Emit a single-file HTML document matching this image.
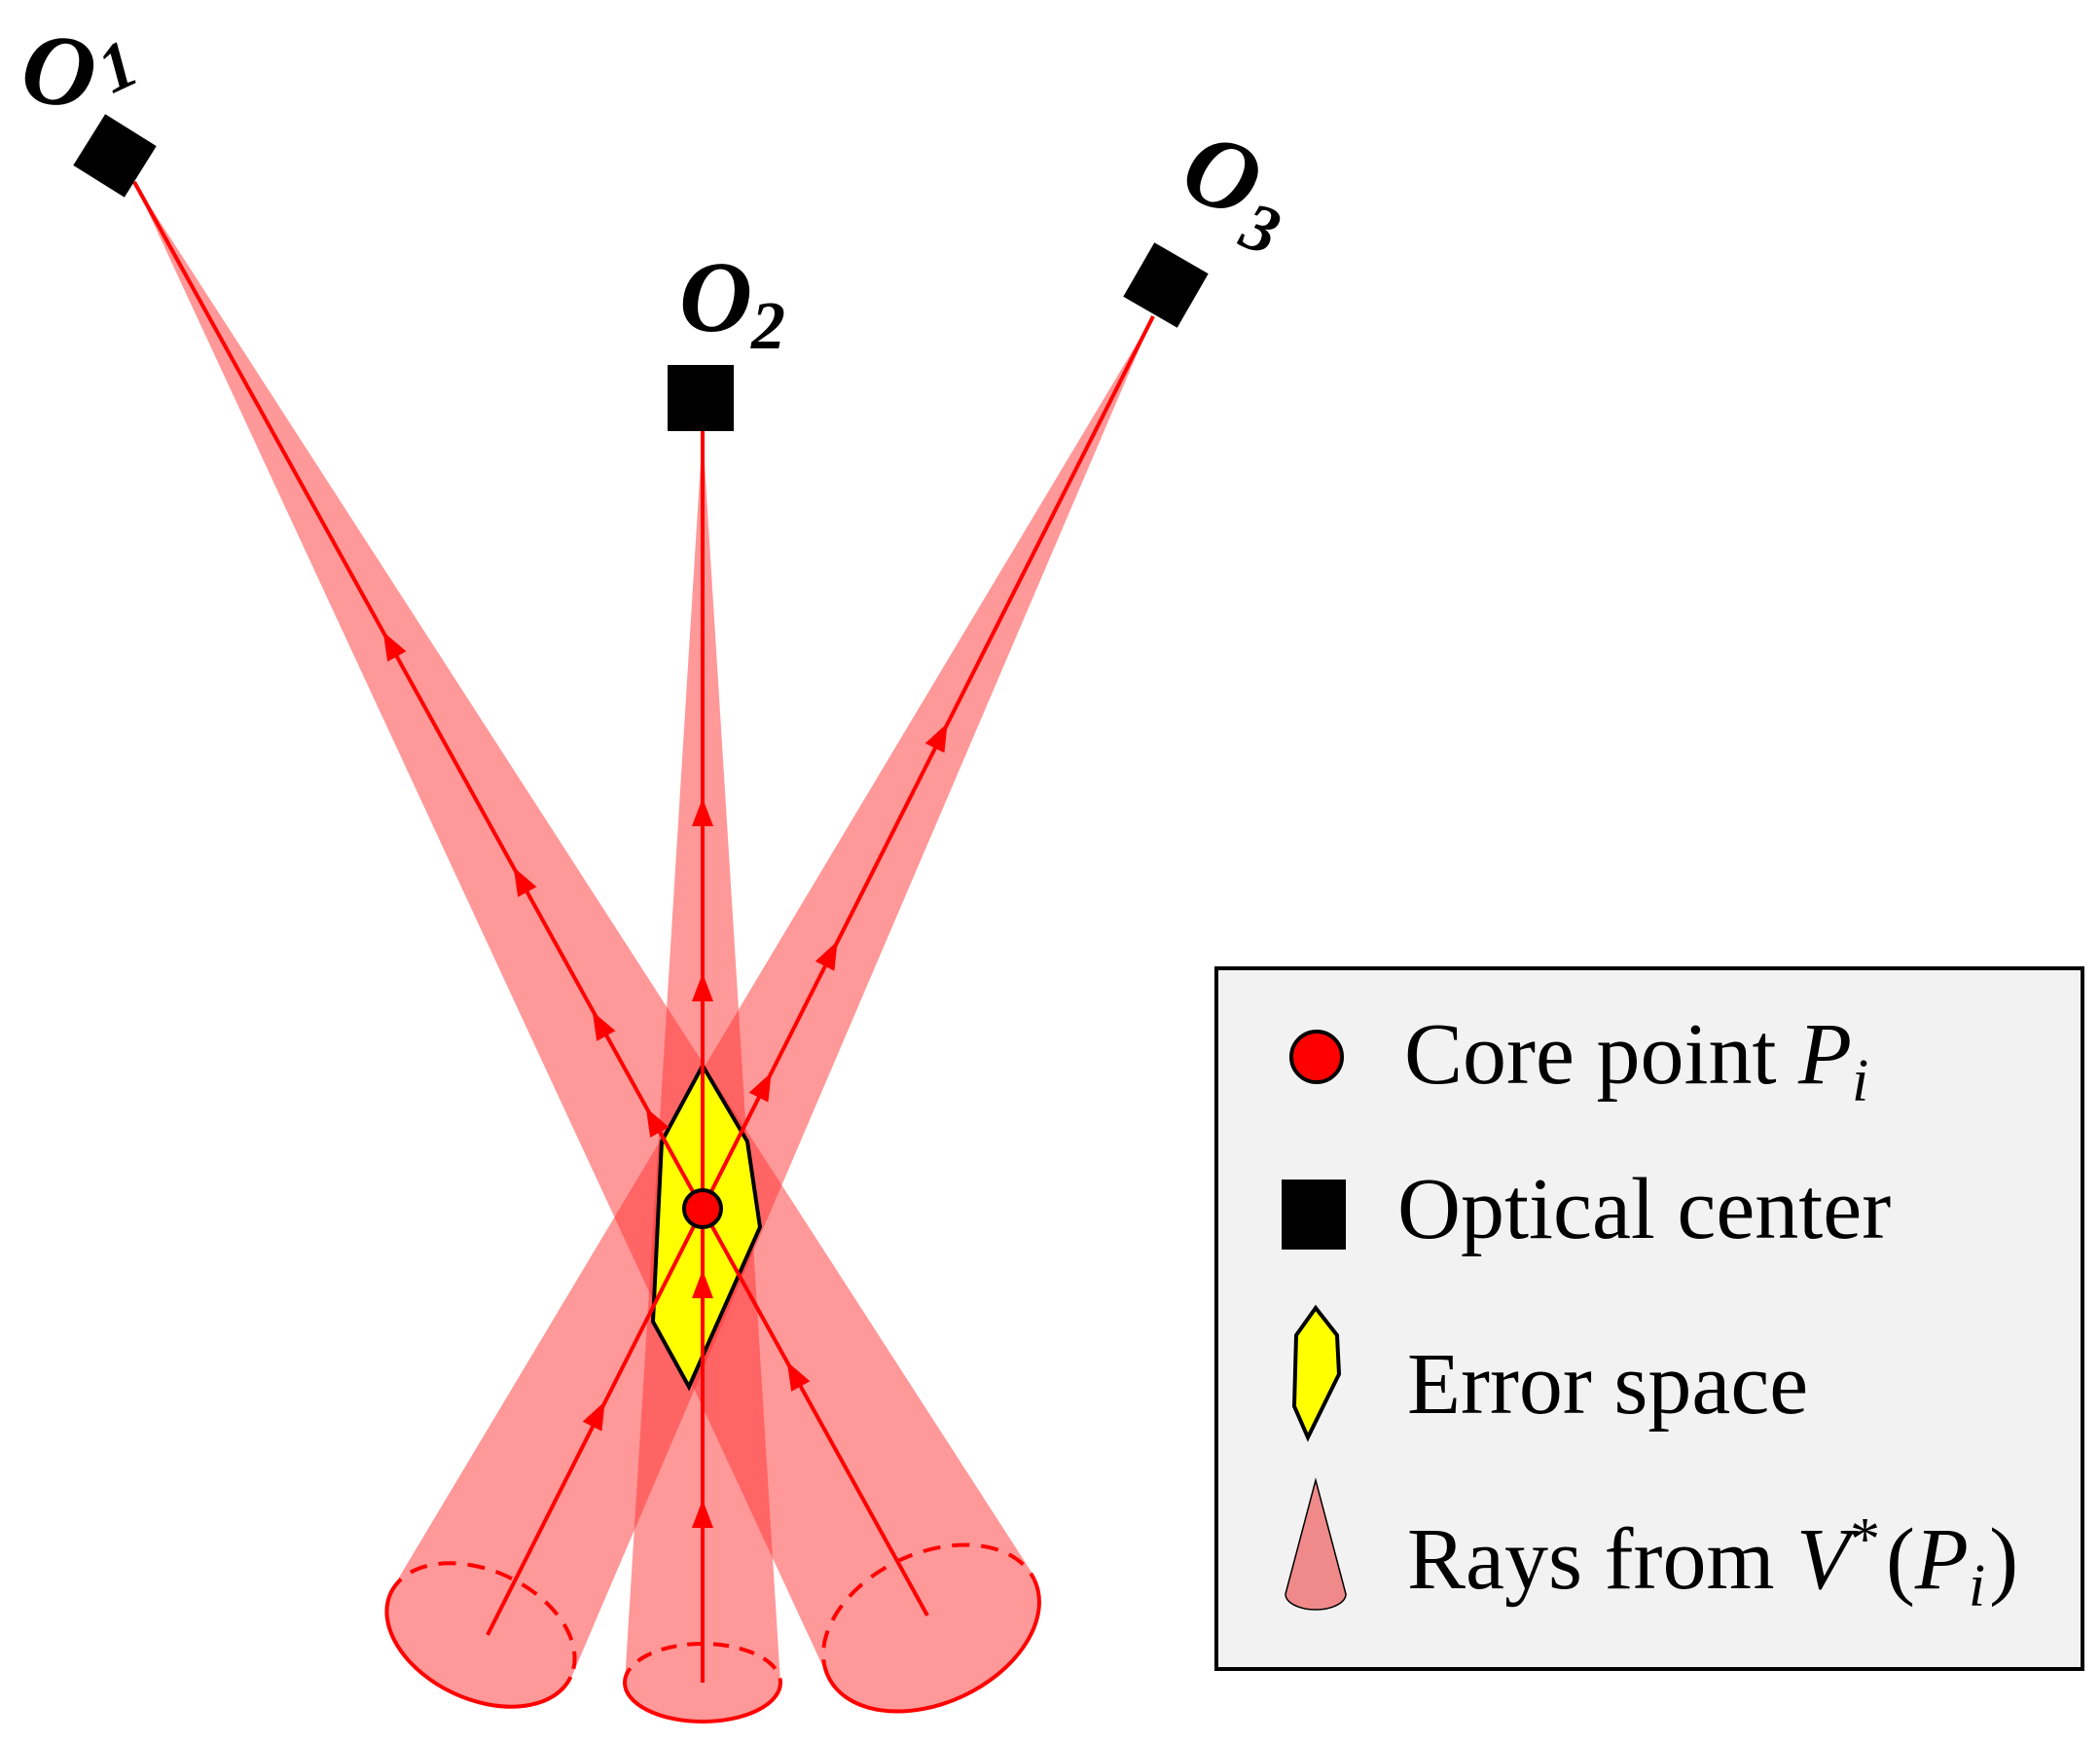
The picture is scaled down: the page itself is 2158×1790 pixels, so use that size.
<!DOCTYPE html>
<html><head><meta charset="utf-8"><style>
html,body{margin:0;padding:0;background:#fff;}
svg{display:block}
</style></head><body>
<svg width="2158" height="1790" viewBox="0 0 2158 1790" xmlns="http://www.w3.org/2000/svg">
<!-- cones -->
<g opacity="0.5" fill="#ff3232">
  <polygon points="138,187 1063,1620 851,1724"/>
  <ellipse cx="957" cy="1673" rx="117" ry="77" transform="rotate(-25 957 1673)"/>
</g>
<g opacity="0.5" fill="#ff3232">
  <polygon points="722,443 642,1729 802,1729"/>
  <ellipse cx="722" cy="1729" rx="80" ry="40"/>
</g>
<g opacity="0.5" fill="#ff3232">
  <polygon points="1185,325 401,1636 587,1724"/>
  <ellipse cx="494" cy="1680" rx="102" ry="66" transform="rotate(25 494 1680)"/>
</g>
<!-- ellipse outlines -->
<g fill="none" stroke="#ff0000" stroke-width="4">
  <g transform="translate(957,1673) rotate(-25)">
    <path d="M-117,0 A117 77 0 0 1 117,0" stroke-dasharray="18 12"/>
    <path d="M-117,0 A117 77 0 0 0 117,0"/>
  </g>
  <g transform="translate(722,1729)">
    <path d="M-80,0 A80 40 0 0 1 80,0" stroke-dasharray="16 11"/>
    <path d="M-80,0 A80 40 0 0 0 80,0"/>
  </g>
  <g transform="translate(494,1680) rotate(25)">
    <path d="M-102,0 A102 66 0 0 1 102,0" stroke-dasharray="18 12"/>
    <path d="M-102,0 A102 66 0 0 0 102,0"/>
  </g>
</g>
<!-- error polygon -->
<polygon points="722,1095 768,1173 781,1261 708,1425 671,1358 680,1173" fill="#ffff00" stroke="#000" stroke-width="4"/>
<!-- rays -->
<g stroke="#ff0000" stroke-width="4">
  <line x1="138" y1="187" x2="953" y2="1660"/>
  <line x1="722" y1="443" x2="722" y2="1729"/>
  <line x1="1185" y1="325" x2="501" y2="1680"/>
</g>
<!-- arrows -->
<g fill="#ff0000">
  <polygon points="0,-17 11,12 -11,12" transform="translate(402,664) rotate(-28.9)"/>
  <polygon points="0,-17 11,12 -11,12" transform="translate(536,906) rotate(-28.9)"/>
  <polygon points="0,-17 11,12 -11,12" transform="translate(617,1054) rotate(-28.9)"/>
  <polygon points="0,-17 11,12 -11,12" transform="translate(672,1153) rotate(-28.9)"/>
  <polygon points="0,-17 11,12 -11,12" transform="translate(817,1414) rotate(-28.9)"/>
  <polygon points="0,-17 11,12 -11,12" transform="translate(966,758) rotate(26.8)"/>
  <polygon points="0,-17 11,12 -11,12" transform="translate(853,982) rotate(26.8)"/>
  <polygon points="0,-17 11,12 -11,12" transform="translate(785,1117) rotate(26.8)"/>
  <polygon points="0,-17 11,12 -11,12" transform="translate(614,1455) rotate(26.8)"/>
  <polygon points="0,-17 11,12 -11,12" transform="translate(722,837)"/>
  <polygon points="0,-17 11,12 -11,12" transform="translate(722,1017)"/>
  <polygon points="0,-17 11,12 -11,12" transform="translate(722,1322)"/>
  <polygon points="0,-17 11,12 -11,12" transform="translate(722,1558)"/>
</g>
<!-- core point -->
<circle cx="722" cy="1242" r="19" fill="#ff0000" stroke="#000" stroke-width="4"/>
<!-- optical centers -->
<rect x="-31" y="-31" width="62" height="62" fill="#000" transform="translate(118,160) rotate(32)"/>
<rect x="686" y="375" width="68" height="68" fill="#000"/>
<rect x="-32" y="-32" width="64" height="64" fill="#000" transform="translate(1198,293) rotate(30)"/>
<!-- labels -->
<g font-family="'Liberation Serif', serif" font-style="italic" font-weight="bold" fill="#000">
  <text x="22" y="106" font-size="104" transform="rotate(8 50 80)">O</text>
  <text x="104" y="92" font-size="70" transform="rotate(-25 120 70)">1</text>
  <text x="698" y="340" font-size="104">O</text>
  <text x="772" y="358" font-size="70">2</text>
  <text x="1218" y="212" font-size="104" transform="rotate(20 1250 180)">O</text>
  <text x="1278" y="258" font-size="70" transform="rotate(20 1295 235)">3</text>
</g>
<!-- legend -->
<rect x="1250" y="995" width="890" height="720" fill="#f2f2f2" stroke="#000" stroke-width="4"/>
<circle cx="1353" cy="1086" r="26" fill="#ff0000" stroke="#000" stroke-width="4"/>
<rect x="1317" y="1212" width="66" height="72" fill="#000"/>
<polygon points="1352,1344 1374,1372 1376,1412 1344,1477 1330,1445 1332,1372" fill="#ffff00" stroke="#000" stroke-width="4"/>
<path d="M1352,1521 L1321,1638 A31 16 0 0 0 1383,1638 Z" fill="#f08a8a" stroke="#000" stroke-width="1.5"/>
<g font-family="'Liberation Serif', serif" font-size="90" fill="#000">
  <text x="1443" y="1113">Core point <tspan font-style="italic">P</tspan><tspan font-style="italic" font-size="62" dy="18">i</tspan></text>
  <text x="1436" y="1272">Optical center</text>
  <text x="1446" y="1452">Error space</text>
  <text x="1446" y="1632">Rays from <tspan font-style="italic">V</tspan><tspan font-size="62" dy="-30">*</tspan><tspan dx="6" dy="30">(</tspan><tspan font-style="italic">P</tspan><tspan font-style="italic" font-size="62" dy="18">i</tspan><tspan dx="4" dy="-18">)</tspan></text>
</g>
</svg>
</body></html>
